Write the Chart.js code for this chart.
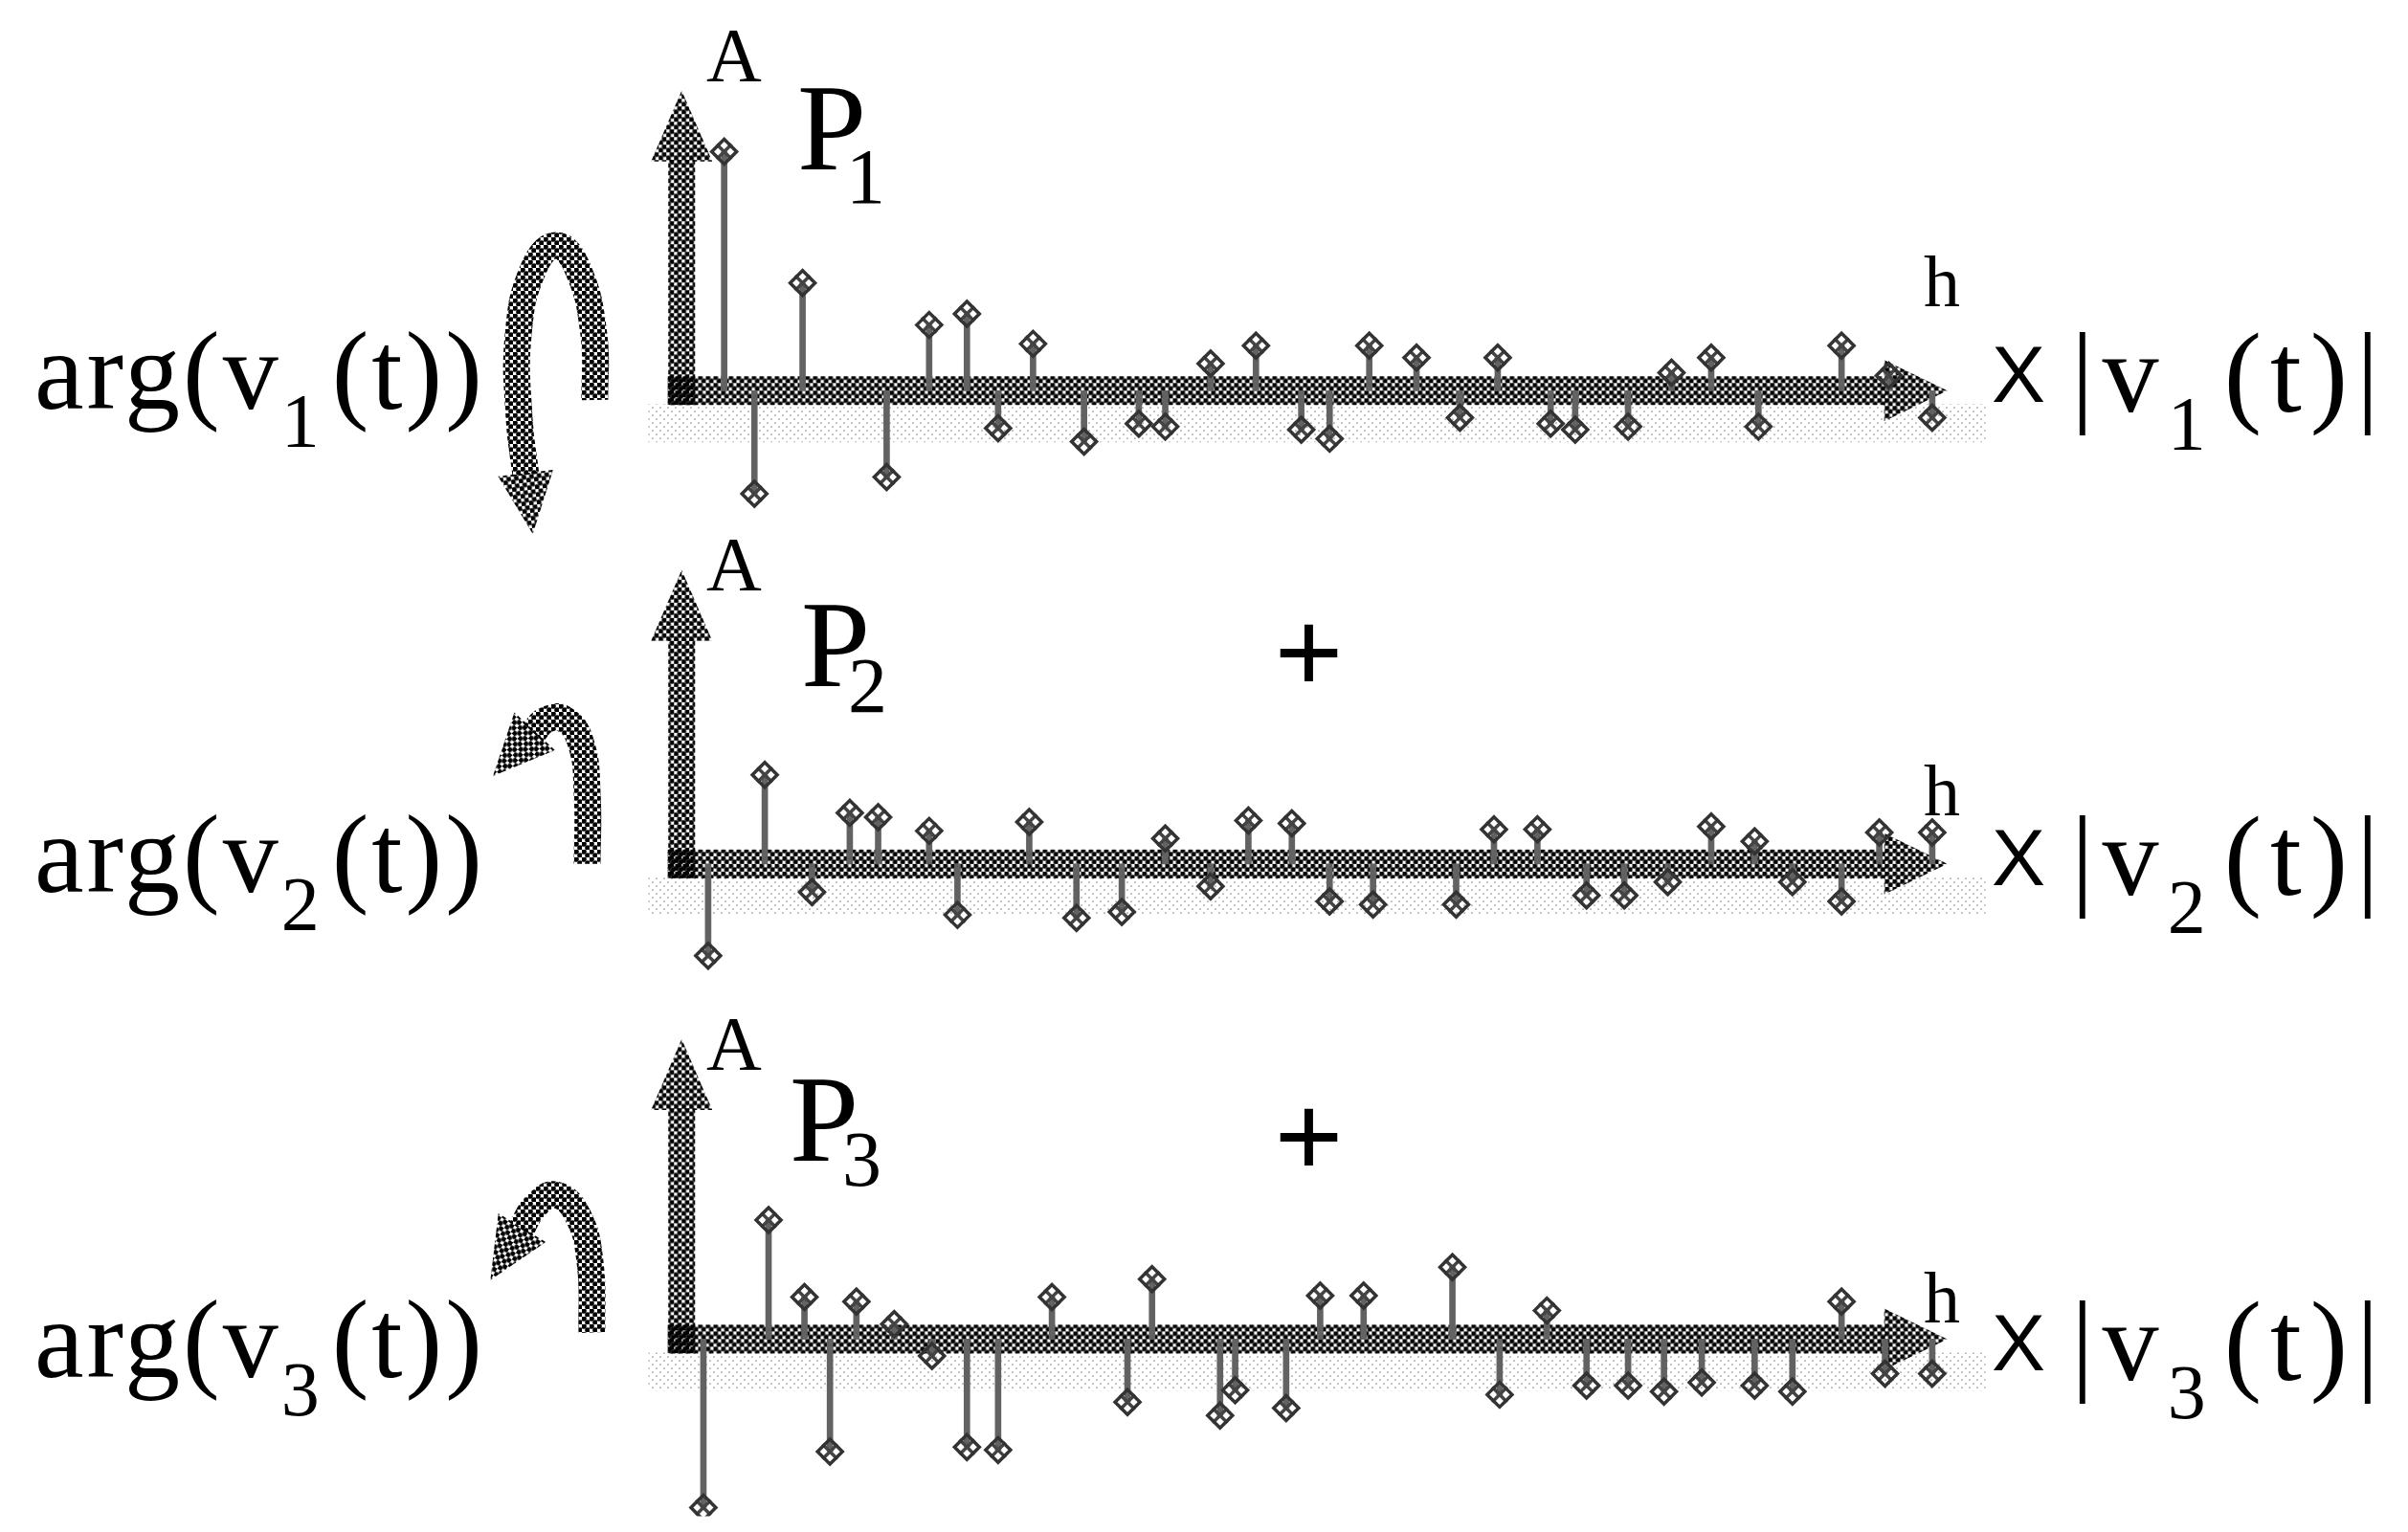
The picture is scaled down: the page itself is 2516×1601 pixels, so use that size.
<!DOCTYPE html>
<html lang="en">
<head>
<meta charset="UTF-8">
<title>arg(v(t)) harmonic spectra</title>
<script src="https://cdn.jsdelivr.net/npm/chart.js@4.4.0/dist/chart.umd.min.js"></script>
<style>
  body { margin: 0; background: #fff; }
  #fig { position: relative; width: 2516px; height: 1601px; overflow: hidden; background: #fff; }
  #fig canvas { position: absolute; left: 0; top: 0; }
  .lbl { position: absolute; font-family: "Liberation Serif", "Times New Roman", serif; line-height: 1; white-space: nowrap; color: #000; }
  .sans { font-family: "Liberation Sans", Arial, sans-serif; }
  .arg { font-size: 116px; letter-spacing: 3px; }
  .mod { font-size: 118px; letter-spacing: 9px; }
  .sb { position: relative; font-size: 80px; top: 40px; margin-right: 10px; }
  .plus { font-size: 128px; font-weight: bold; }
</style>
</head>
<body>
<div id="fig">
  <canvas id="p1" width="2516" height="1601"></canvas>
  <canvas id="p2" width="2516" height="1601"></canvas>
  <canvas id="p3" width="2516" height="1601"></canvas>

  <!-- left labels -->
  <div class="lbl arg" style="left:36px; top:330px;">arg(v<span class="sb">1</span>(t))</div>
  <div class="lbl arg" style="left:36px; top:835px;">arg(v<span class="sb">2</span>(t))</div>
  <div class="lbl arg" style="left:36px; top:1342px;">arg(v<span class="sb">3</span>(t))</div>

  <!-- right labels -->
  <div class="lbl sans" style="left:2081px; top:349px; font-size:84px;">X</div>
  <div class="lbl sans" style="left:2081px; top:854px; font-size:84px;">X</div>
  <div class="lbl sans" style="left:2081px; top:1361px; font-size:84px;">X</div>
  <div class="lbl mod" style="left:2164px; top:332px;">|v<span class="sb">1</span>(t)|</div>
  <div class="lbl mod" style="left:2164px; top:837px;">|v<span class="sb">2</span>(t)|</div>
  <div class="lbl mod" style="left:2164px; top:1344px;">|v<span class="sb">3</span>(t)|</div>

  <!-- axis names -->
  <div class="lbl" style="left:738px; top:18px; font-size:80px;">A</div>
  <div class="lbl" style="left:738px; top:550px; font-size:80px;">A</div>
  <div class="lbl" style="left:738px; top:1051px; font-size:80px;">A</div>
  <div class="lbl" style="left:2010px; top:256px; font-size:76px;">h</div>
  <div class="lbl" style="left:2010px; top:788px; font-size:76px;">h</div>
  <div class="lbl" style="left:2010px; top:1318px; font-size:76px;">h</div>

  <!-- panel names -->
  <div class="lbl" style="left:833px; top:68px; font-size:130px;">P</div>
  <div class="lbl" style="left:884px; top:144px; font-size:82px;">1</div>
  <div class="lbl" style="left:837px; top:608px; font-size:130px;">P</div>
  <div class="lbl" style="left:886px; top:676px; font-size:82px;">2</div>
  <div class="lbl" style="left:825px; top:1104px; font-size:130px;">P</div>
  <div class="lbl" style="left:880px; top:1171px; font-size:82px;">3</div>

  <div class="lbl plus" style="left:1331px; top:618px;">+</div>
  <div class="lbl plus" style="left:1331px; top:1124px;">+</div>
</div>

<script>
  // harmonic position and signed amplitude of each line, panel P1
  const h1 = [2.25, 3.85, 6.4, 10.85, 13.1, 15.1, 16.75, 18.6, 21.3, 24.2, 25.6, 28.0, 30.4, 32.8, 34.3, 36.4, 38.9, 41.2, 43.2, 46.0, 47.3, 50.1, 52.4, 54.5, 57.0, 61.4, 63.9, 66.2];
  const a1 = [79.7, -34.4, 35.9, -28.8, 21.9, 25.6, -12.5, 15.6, -17, -11, -12, 9, 15, -13, -16, 15, 11, -9, 11, -11, -13, -12, 6, 11, -12, 15, 5, -9];

  // panel P2
  const h2 = [1.4, 4.4, 6.9, 8.9, 10.4, 13.1, 14.6, 18.4, 20.9, 23.3, 25.6, 28.0, 30.0, 32.3, 34.3, 36.6, 41.0, 43.0, 45.3, 47.9, 49.9, 52.2, 54.5, 56.8, 58.8, 61.4, 63.4, 66.2];
  const a2 = [-30.6, 29.7, -9.4, 17, 15.6, 11, -17, 14, -18, -16, 8.5, -7.5, 14.5, 13.5, -12.5, -13.5, -13.5, 11.5, 11.5, -10.5, -10.5, -6, 12.5, 7.5, -6, -12.5, 10.5, 10.5];

  // panel P3
  const h3 = [1.15, 4.6, 6.5, 7.85, 9.25, 11.25, 13.25, 15.1, 16.75, 19.6, 23.6, 24.9, 28.5, 29.3, 32.0, 33.8, 36.1, 40.8, 43.3, 45.8, 47.9, 50.1, 52.0, 54.0, 56.8, 58.8, 61.4, 63.7, 66.2];
  const a3 = [-56.2, 39.7, 14, -37.5, 12.5, 5, -5.6, -36, -37, 14, -21, 20, -25.5, -17, -23, 14.5, 14.5, 24, -18.5, 9.5, -15.5, -15.5, -17.5, -14.5, -15.5, -17.5, 12.5, -11.5, -11.5];

  // phase-rotation arrows (arg) left of each A axis, same units as the plots
  const arc1x = [-4.6, -4.65, -5.5, -6.65, -7.85, -8.65, -8.6, -8.25];
  const arc1y = [-3.1, 18.75, 40.6, 48.4, 40.6, 18.75, -9.4, -28.1];
  const arc2x = [-5, -5, -5.35, -6.25, -7.25, -7.85];
  const arc2y = [0, 23.4, 40.6, 48.4, 47.8, 43.75];
  const arc3x = [-4.75, -4.85, -5.5, -6.65, -7.75, -8.5];
  const arc3y = [2.2, 25.6, 41.25, 48.1, 44.4, 36.6];

  // axis extents
  const axisTop = [100, 98, 100];
  const axisStart = -0.75;
  const axisEnd = 67;

  // layout
  const W = 2516, H = 1601;
  const originX = 705, unitX = 20, unitY = 3.2;
  const baseline = [400, 905, 1412];

  // halftone look of the scanned figure
  function halftone(step, r, color) {
    const c = document.createElement('canvas');
    c.width = c.height = step;
    const g = c.getContext('2d');
    g.fillStyle = color;
    [[step / 4, step / 4], [3 * step / 4, 3 * step / 4]].forEach(([x, y]) => {
      g.beginPath(); g.arc(x, y, r, 0, Math.PI * 2); g.fill();
    });
    return g.createPattern(c, 'repeat');
  }
  const dark = halftone(8, 2.8, '#000');
  const faint = halftone(8, 0.6, '#000');

  function arrow(ctx, x0, y0, x1, y1, width, headLen, headW, fill) {
    const ang = Math.atan2(y1 - y0, x1 - x0);
    const len = Math.hypot(x1 - x0, y1 - y0);
    ctx.save();
    ctx.translate(x0, y0);
    ctx.rotate(ang);
    ctx.fillStyle = fill;
    ctx.fillRect(0, -width / 2, len - headLen + 2, width);
    ctx.beginPath();
    ctx.moveTo(len, 0);
    ctx.lineTo(len - headLen, -headW / 2);
    ctx.lineTo(len - headLen, headW / 2);
    ctx.closePath();
    ctx.fill();
    ctx.restore();
  }

  const arrowAxes = {
    id: 'arrowAxes',
    beforeDatasetsDraw(chart, args, opts) {
      const { ctx, scales: { x, y } } = chart;
      const x0 = x.getPixelForValue(0), y0 = y.getPixelForValue(0);
      // faint stipple shadow under the h axis
      ctx.save();
      ctx.fillStyle = faint;
      ctx.fillRect(x.getPixelForValue(axisStart) - 20, y0 + 14, x.getPixelForValue(axisEnd) - x.getPixelForValue(axisStart) + 60, 40);
      ctx.restore();
      arrow(ctx, x.getPixelForValue(axisStart), y0, x.getPixelForValue(axisEnd), y0, 30, 66, 64, dark);
      arrow(ctx, x0, y0 + 15, x0, y.getPixelForValue(opts.top), 28, 74, 64, dark);
    },
    afterDatasetsDraw(chart) {
      const { ctx } = chart;
      chart.data.datasets.forEach((ds, i) => {
        if (!ds.arrowHead) return;
        const pts = chart.getDatasetMeta(i).data;
        const a = pts[pts.length - 2], b = pts[pts.length - 1];
        const ang = Math.atan2(b.y - a.y, b.x - a.x);
        const tipX = b.x + Math.cos(ang) * 62, tipY = b.y + Math.sin(ang) * 62;
        arrow(ctx, b.x, b.y, tipX, tipY, 0, 64, 58, dark);
      });
    }
  };

  function panel(id, k, hs, amps, arcX, arcY) {
    const lines = hs.map((h, i) => ({ x: h, y: amps[i] }));
    const arc = arcX.map((v, i) => ({ x: v, y: arcY[i] }));
    return new Chart(document.getElementById(id), {
      type: 'scatter',
      data: {
        datasets: [
          { type: 'bar', data: lines, backgroundColor: '#626262', barThickness: 6, borderWidth: 0, grouped: false, order: 4 },
          { type: 'scatter', data: lines, pointStyle: 'rectRot', pointRadius: 13, borderWidth: 3.5,
            borderColor: '#333', backgroundColor: 'rgba(255,255,255,0)', order: 1 },
          { type: 'scatter', data: lines, pointStyle: 'crossRot', pointRadius: 11, borderWidth: 3.5,
            borderColor: '#444', order: 2 },
          { type: 'line', data: arc, borderColor: dark, borderWidth: 28, pointRadius: 0, tension: 0.45,
            fill: false, borderCapStyle: 'butt', arrowHead: true, order: 3 }
        ]
      },
      options: {
        responsive: false,
        animation: false,
        events: [],
        layout: { padding: 0 },
        plugins: {
          legend: { display: false },
          tooltip: { enabled: false },
          arrowAxes: { top: axisTop[k] }
        },
        scales: {
          x: { type: 'linear', display: false, offset: false, grid: { offset: false },
               min: -originX / unitX, max: (W - originX) / unitX },
          y: { type: 'linear', display: false,
               min: -(H - baseline[k]) / unitY, max: baseline[k] / unitY }
        }
      },
      plugins: [arrowAxes]
    });
  }

  panel('p1', 0, h1, a1, arc1x, arc1y);
  panel('p2', 1, h2, a2, arc2x, arc2y);
  panel('p3', 2, h3, a3, arc3x, arc3y);
</script>
</body>
</html>
